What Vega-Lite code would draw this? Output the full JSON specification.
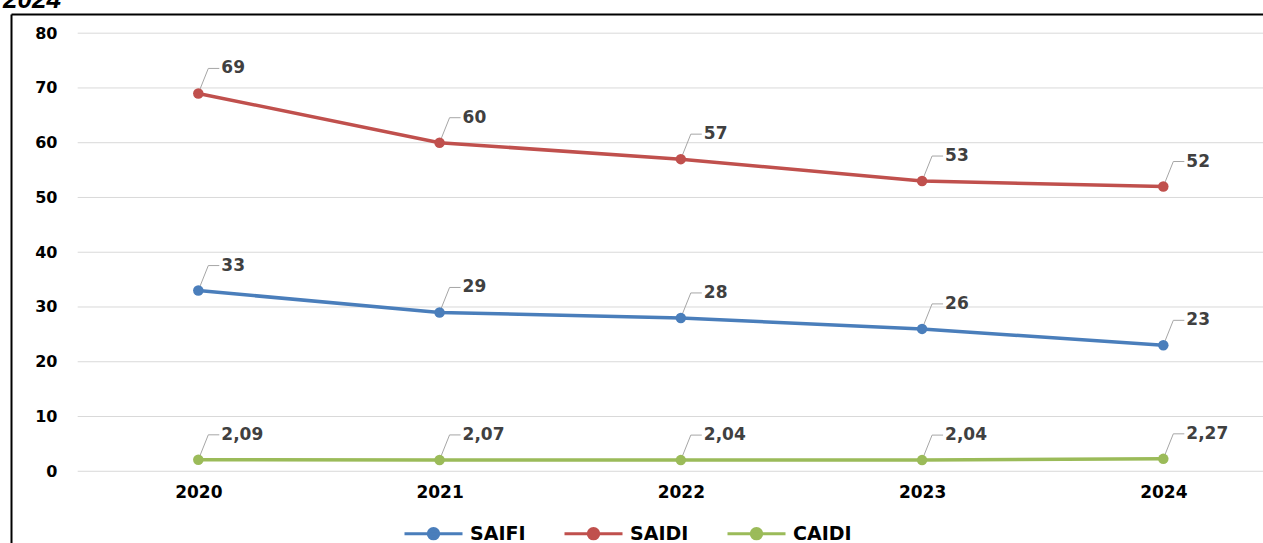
{
  "$schema": "https://vega.github.io/schema/vega-lite/v6.json",
  "autosize": "none",
  "width": 1252,
  "height": 529,
  "padding": {"left": 11, "top": 14, "right": 0, "bottom": 0},
  "background": "#ffffff",
  "title": {"text": "2024", "anchor": "start", "frame": "group", "orient": "top", "font": "Liberation Sans", "fontSize": 26, "fontWeight": "bold", "fontStyle": "italic", "color": "#000000", "offset": -20, "dx": -8, "baseline": "alphabetic"},
  "config": {
    "view": {"stroke": null},
    "locale": {"number": {"decimal": ",", "thousands": ".", "grouping": [3], "currency": ["", "€"]}}
  },
  "resolve": {"axis": {"x": "independent"}},
  "layer": [
    {
      "data": {"values": [{"v": 0}, {"v": 10}, {"v": 20}, {"v": 30}, {"v": 40}, {"v": 50}, {"v": 60}, {"v": 70}, {"v": 80}]},
      "mark": {"type": "rule", "color": "#d9d9d9", "strokeWidth": 1, "clip": true},
      "encoding": {
        "x": {"datum": 2019.5, "type": "quantitative",
          "scale": {"domain": [2019.2236, 2024.4132], "nice": false, "zero": false},
          "axis": {"orient": "top", "domain": true, "domainColor": "#000000", "domainWidth": 2, "labels": false, "ticks": false, "grid": false, "title": null}},
        "x2": {"datum": 2024.5},
        "y": {"field": "v", "type": "quantitative",
          "scale": {"domain": [-13.1, 83.506], "nice": false, "zero": false},
          "axis": {"orient": "left", "values": [0, 10, 20, 30, 40, 50, 60, 70, 80], "domain": true, "domainColor": "#000000", "domainWidth": 2, "ticks": false, "tickSize": 0, "grid": false, "labelPadding": -46, "labelFont": "DejaVu Sans", "labelFontWeight": "bold", "labelFontSize": 16, "labelColor": "#000000", "labelAlign": "right", "labelBaseline": "middle", "title": null}}
      }
    },
    {
      "data": {"values": [
        {"series": "SAIFI", "year": 2020, "value": 33},
        {"series": "SAIFI", "year": 2021, "value": 29},
        {"series": "SAIFI", "year": 2022, "value": 28},
        {"series": "SAIFI", "year": 2023, "value": 26},
        {"series": "SAIFI", "year": 2024, "value": 23},
        {"series": "SAIDI", "year": 2020, "value": 69},
        {"series": "SAIDI", "year": 2021, "value": 60},
        {"series": "SAIDI", "year": 2022, "value": 57},
        {"series": "SAIDI", "year": 2023, "value": 53},
        {"series": "SAIDI", "year": 2024, "value": 52},
        {"series": "CAIDI", "year": 2020, "value": 2.09},
        {"series": "CAIDI", "year": 2021, "value": 2.07},
        {"series": "CAIDI", "year": 2022, "value": 2.04},
        {"series": "CAIDI", "year": 2023, "value": 2.04},
        {"series": "CAIDI", "year": 2024, "value": 2.27}
      ]},
      "encoding": {
        "x": {"field": "year", "type": "quantitative",
          "scale": {"domain": [2019.2236, 2024.4132], "nice": false, "zero": false},
          "axis": {"orient": "bottom", "offset": -72, "values": [2020, 2021, 2022, 2023, 2024], "format": "d", "domain": false, "ticks": false, "tickSize": 0, "grid": false, "labelPadding": 13, "labelFont": "DejaVu Sans", "labelFontWeight": "bold", "labelFontSize": 17, "labelColor": "#000000", "title": null}},
        "y": {"field": "value", "type": "quantitative",
          "scale": {"domain": [-13.1, 83.506], "nice": false, "zero": false},
          "axis": {"orient": "left", "values": [0, 10, 20, 30, 40, 50, 60, 70, 80], "domain": true, "domainColor": "#000000", "domainWidth": 2, "ticks": false, "tickSize": 0, "grid": false, "labelPadding": -46, "labelFont": "DejaVu Sans", "labelFontWeight": "bold", "labelFontSize": 16, "labelColor": "#000000", "labelAlign": "right", "labelBaseline": "middle", "title": null}}
      },
      "layer": [
        {
          "mark": {"type": "point", "shape": "M0,0L0.5,-1.25L1.05,-1.25", "size": 1600, "filled": false, "stroke": "#a6a6a6", "strokeWidth": 1, "opacity": 1}
        },
        {
          "mark": {"type": "line", "strokeWidth": 3.5, "point": {"filled": true, "size": 110}},
          "encoding": {
            "color": {"field": "series", "type": "nominal",
              "scale": {"domain": ["SAIFI", "SAIDI", "CAIDI"], "range": ["#4a7ebb", "#c0504d", "#9bbb59"]},
              "legend": {"orient": "none", "legendX": 392, "legendY": 489, "direction": "horizontal", "title": null,
                "symbolType": "M-1,0H1M-0.18,0A0.18,0.18,0,1,1,0.18,0A0.18,0.18,0,1,1,-0.18,0",
                "symbolSize": 3364, "symbolStrokeWidth": 3,
                "labelFont": "DejaVu Sans", "labelFontWeight": "bold", "labelFontSize": 19, "labelColor": "#000000",
                "labelOffset": 6, "columnPadding": 32,
                "encode": {"symbols": {"update": {"fill": {"scale": "color", "field": "value"}, "stroke": {"scale": "color", "field": "value"}}}}}}
          }
        },
        {
          "mark": {"type": "text", "align": "left", "baseline": "middle", "dx": 23, "dy": -25, "font": "DejaVu Sans", "fontWeight": "bold", "fontSize": 17, "fill": "#404040"},
          "encoding": {"text": {"field": "value", "type": "quantitative", "format": ".3~r"}}
        }
      ]
    }
  ]
}
